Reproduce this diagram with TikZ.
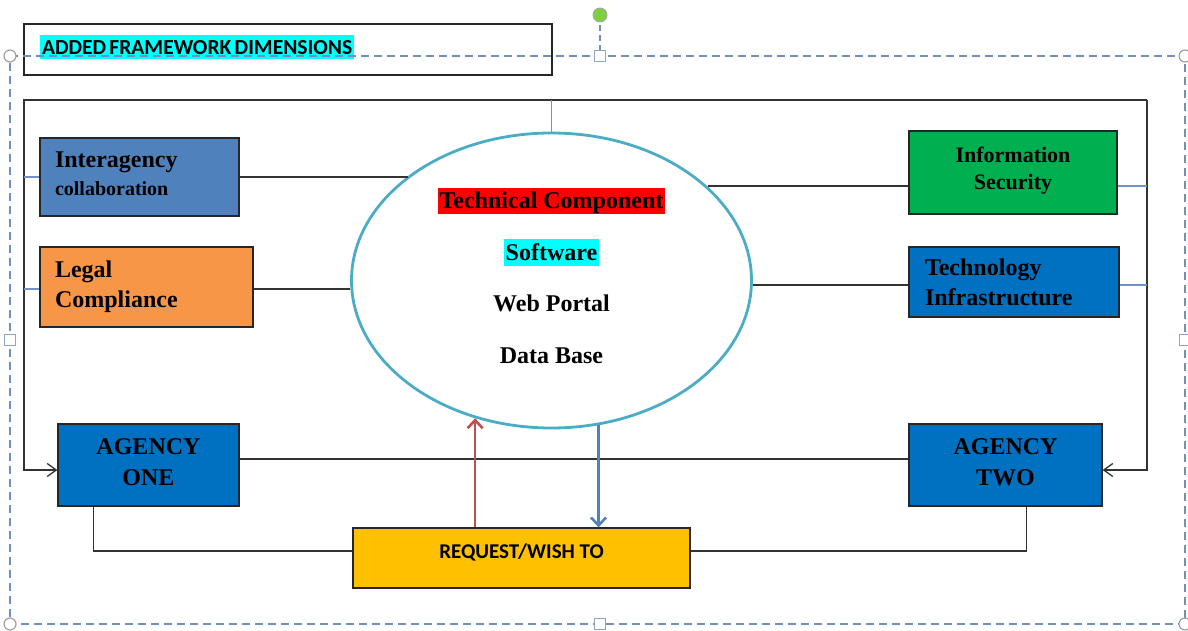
\documentclass[tikz,border=0pt]{standalone}
\usepackage{fontspec}
\setmainfont{Liberation Serif}
\newfontfamily\calfont{Carlito}
\usetikzlibrary{shapes.geometric,arrows.meta,calc}

\definecolor{selblue}{HTML}{7090BD}
\definecolor{stubblue}{HTML}{6F93C6}
\definecolor{ellblue}{HTML}{4BACC6}
\definecolor{boxblue}{HTML}{4F81BD}
\definecolor{boxorange}{HTML}{F79646}
\definecolor{boxgreen}{HTML}{00B050}
\definecolor{deepblue}{HTML}{0070C0}
\definecolor{boxgold}{HTML}{FFC000}
\definecolor{arrred}{HTML}{C0504D}
\definecolor{arrblue}{HTML}{4F81BD}
\definecolor{handlegreen}{HTML}{7DD13B}
\definecolor{hlred}{HTML}{FF0000}
\definecolor{hlcyan}{HTML}{00FFFF}

% highlighted text: colour, depth, height, text
\newcommand\hlbox[4]{{\setlength\fboxsep{0pt}\colorbox{#1}{\rule[-#2]{0pt}{#3}\hspace{2pt}#4\hspace{2pt}}}}
% extra depth under a last line, to lift a text block
\newcommand\liftby[1]{\rule[-#1]{0pt}{0pt}}

\begin{document}
\begin{tikzpicture}[x=1pt,y=-1pt,
  box/.style={draw=black!85, line width=1.3pt, inner sep=0pt, rectangle},
  serifb/.style={font=\fontsize{24}{30}\selectfont\bfseries},
  conn/.style={draw=black!80, line width=1.3pt},
  stub/.style={draw=stubblue, line width=1.2pt},
  barb/.style={-{Straight Barb[length=9pt,width=13pt,line width=1.3pt]}},
  thick arrow/.style={line width=2.6pt, -{Straight Barb[length=8pt,width=15pt,line width=2.6pt]}},
  selframe/.style={draw=selblue, line width=1.4pt, dash pattern=on 8pt off 5pt},
  corner/.style={circle, draw=black!40, fill=white, line width=1.1pt, minimum size=12pt, inner sep=0pt},
  sqhandle/.style={rectangle, draw=selblue!80, fill=white, line width=1.3pt, minimum size=11pt, inner sep=0pt}
]
\useasboundingbox (0,0) rectangle (1188,631);

% title box
\node[box, line width=1.6pt, minimum width=528pt, minimum height=51pt,
      text width=496pt, align=left] (tb) at (288,49.5)
  {\calfont\bfseries\fontsize{21.5}{24}\selectfont\hlbox{hlcyan}{4pt}{24pt}{ADDED FRAMEWORK DIMENSIONS}\liftby{9pt}};

% central ellipse
\node[ellipse, draw=ellblue, line width=2.8pt, minimum width=400pt, minimum height=295pt,
      inner sep=0pt, align=center, font=\fontsize{24}{51.5}\selectfont\bfseries] (el) at (551.5,280.5)
  {\hlbox{hlred}{4pt}{25pt}{Technical Component}\\
   \hlbox{hlcyan}{5.5pt}{27pt}{Software}\\
   Web Portal\\
   Data Base\liftby{10pt}};

% dimension boxes
\node[box, fill=boxblue, minimum width=199pt, minimum height=78pt, text width=169pt, align=left,
      font=\fontsize{24}{28}\selectfont\bfseries] (ia) at (139.5,177)
  {Interagency\\{\fontsize{20}{28}\selectfont collaboration}\liftby{6pt}};
\node[box, fill=boxorange, minimum width=213pt, minimum height=80pt, text width=183pt, align=left,
      serifb] (lc) at (146.5,287) {Legal\\Compliance};
\node[box, fill=boxgreen, minimum width=208pt, minimum height=83pt, align=center,
      font=\fontsize{22}{27}\selectfont\bfseries] (is) at (1013,172.5) {Information\\Security\liftby{8pt}};
\node[box, fill=deepblue, minimum width=210pt, minimum height=70pt, text width=178pt, align=left,
      serifb] (ti) at (1014,282) {Technology\\Infrastructure};

% agencies and request
\node[box, fill=deepblue, minimum width=181pt, minimum height=82pt, align=center,
      font=\fontsize{24}{31}\selectfont\bfseries] (a1) at (148.5,465) {AGENCY\\ONE\liftby{6pt}};
\node[box, fill=deepblue, minimum width=193pt, minimum height=82pt, align=center,
      font=\fontsize{24}{31}\selectfont\bfseries] (a2) at (1005.5,465) {AGENCY\\TWO\liftby{6pt}};
\node[box, fill=boxgold, minimum width=337pt, minimum height=60pt, text depth=14pt,
      font=\calfont\bfseries\fontsize{21}{24}\selectfont] (rq) at (521.5,558) {REQUEST/WISH TO};

% outer frame corners
\coordinate (tl) at (24,100);
\coordinate (tr) at (1147,100);
\coordinate (bl) at (24,470);
\coordinate (br) at (1147,470);

% outer frame with arrows into the agencies
\draw[conn, barb] (tr) -- (tl) -- (bl) -- (bl -| a1.west);
\draw[conn, barb] (tr) -- (br) -- (br -| a2.east);

% thin stubs from the frame
\draw[stub] (el.north) -- (el.north |- tl);
\draw[stub] (ia.west) -- (ia.west -| tl);
\draw[stub] ([yshift=-2pt]lc.west) -- ([yshift=-2pt]lc.west -| tl);
\draw[stub] ([yshift=-13.5pt]is.east) -- ([yshift=-13.5pt]is.east -| tr);
\draw[stub] ([yshift=-3pt]ti.east) -- ([yshift=-3pt]ti.east -| tr);

% dimensions linked to the technical component
\draw[conn] (ia.east) -- (ia.east -| el.144);
\draw[conn] ([yshift=-2pt]lc.east) -- ([yshift=-2pt]lc.east -| el.west);
\draw[conn] ([yshift=-13.5pt]is.west) -- ([yshift=-13.5pt]is.west -| el.31.6);
\draw[conn] ([yshift=-3pt]ti.west) -- ([yshift=-3pt]ti.west -| el.east);

% agency links
\draw[conn] ([yshift=6pt]a1.east) -- ([yshift=6pt]a2.west);
\draw[conn] ([xshift=36pt]a1.south west) |- ([yshift=7pt]rq.west);
\draw[conn] ([xshift=118pt]a2.south west) |- ([yshift=7pt]rq.east);

% request flow
\draw[arrred, thick arrow] (rq.north -| el.241) -- (el.241);
\draw[arrblue, thick arrow] (el.288) -- (rq.north -| el.288);

% selection frame with handles
\coordinate (s1) at (10,56);
\coordinate (s2) at (1185,56);
\coordinate (s3) at (1185,624);
\coordinate (s4) at (10,624);
\coordinate (rot) at (600,15);
\draw[selframe] (s1) -- (s2) -- (s3) -- (s4) -- cycle;
\draw[selframe, dash pattern=on 6pt off 4pt] (rot) -- (rot |- s1);
\node[corner] at (s1) {};
\node[corner] at (s2) {};
\node[corner] at (s3) {};
\node[corner] at (s4) {};
\node[sqhandle] at (rot |- s1) {};
\node[sqhandle] at (rot |- s4) {};
\node[sqhandle] at (10,340) {};
\node[sqhandle] at (1185,340) {};
\node[circle, fill=handlegreen, draw=black!35, line width=0.9pt, minimum size=14pt, inner sep=0pt] at (rot) {};
\end{tikzpicture}
\end{document}
